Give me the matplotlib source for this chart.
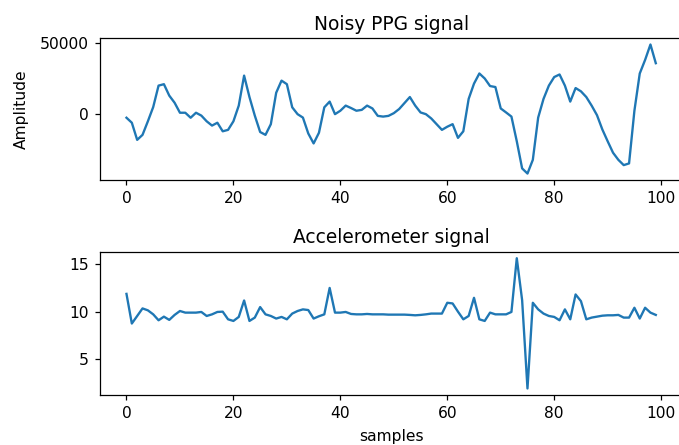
import matplotlib
matplotlib.use("Agg")
import matplotlib.pyplot as plt
import numpy as np

# PPG amplitude per sample
ppg = [
    -2500, -6000, -18000, -14500, -5000, 5000, 20000, 21000, 13000, 8000,
    1000, 1000, -2500, 1000, -1000, -5000, -8000, -6000, -12000, -11000,
    -5000, 6000, 27000, 12000, -1000, -12500, -14500, -7000, 15000, 23500,
    21000, 4800, 0, -2400, -13500, -20500, -13000, 4800, 8800, 0,
    2400, 6000, 4300, 2400, 3000, 6000, 4000, -1200, -1700, -1200,
    700, 3600, 7800, 12000, 6000, 1200, 0, -3000, -7000, -11000,
    -8800, -7000, -16600, -12000, 10700, 21400, 28500, 25000, 19700, 19000,
    4000, 1200, -1700, -19000, -38000, -41600, -32000, -2400, 10700, 20000,
    26000, 27800, 20000, 8800, 18300, 16000, 12000, 6000, -700, -10700,
    -19000, -27000, -32000, -35700, -34500, 2400, 28500, 38000, 48800, 35700,
]

# accelerometer magnitude per sample
acc = [
    11.86, 8.76, 9.55, 10.34, 10.14, 9.72, 9.10, 9.48, 9.14, 9.66,
    10.07, 9.90, 9.90, 9.90, 9.97, 9.55, 9.72, 9.97, 10.00, 9.20,
    9.03, 9.45, 11.17, 9.03, 9.38, 10.48, 9.72, 9.55, 9.28, 9.45,
    9.20, 9.80, 10.07, 10.24, 10.17, 9.28, 9.52, 9.72, 12.48, 9.90,
    9.90, 9.97, 9.76, 9.72, 9.72, 9.76, 9.72, 9.72, 9.72, 9.69,
    9.69, 9.69, 9.69, 9.66, 9.62, 9.66, 9.72, 9.80, 9.80, 9.80,
    10.93, 10.86, 10.00, 9.20, 9.55, 11.45, 9.20, 9.03, 9.90, 9.72,
    9.72, 9.72, 9.97, 15.59, 11.20, 1.97, 10.93, 10.24, 9.80, 9.55,
    9.45, 9.10, 10.24, 9.20, 11.80, 11.10, 9.20, 9.38, 9.48, 9.58,
    9.62, 9.62, 9.66, 9.38, 9.38, 10.41, 9.28, 10.41, 9.90, 9.66,
]

samples = np.arange(len(ppg))

# everything a bit larger than the defaults
scale = 1.12
plt.rcParams["font.size"] = 10 * scale
plt.rcParams["lines.linewidth"] = 1.5 * scale
plt.rcParams["axes.linewidth"] = 0.8 * scale
for axis in ("xtick", "ytick"):
    plt.rcParams[f"{axis}.major.size"] = 3.5 * scale
    plt.rcParams[f"{axis}.major.pad"] = 3.5 * scale
    plt.rcParams[f"{axis}.major.width"] = 0.8 * scale

fig = plt.figure(figsize=(6.79, 4.45), dpi=100)
# right edge runs just past the canvas
ax1 = fig.add_axes([0.1473, 0.5955, 0.8575, 0.319])
ax2 = fig.add_axes([0.1473, 0.1124, 0.8575, 0.322])

ax1.plot(samples, ppg)
ax1.set_title("Noisy PPG signal")
ax1.set_ylabel("Amplitude", labelpad=8)
ax1.set_xticks([0, 20, 40, 60, 80, 100])
ax1.set_yticks([0, 50000])

ax2.plot(samples, acc)
ax2.set_title("Accelerometer signal")
ax2.set_xlabel("samples", labelpad=6)
ax2.set_xticks([0, 20, 40, 60, 80, 100])
ax2.set_yticks([5, 10, 15])

fig.savefig("out.png")
